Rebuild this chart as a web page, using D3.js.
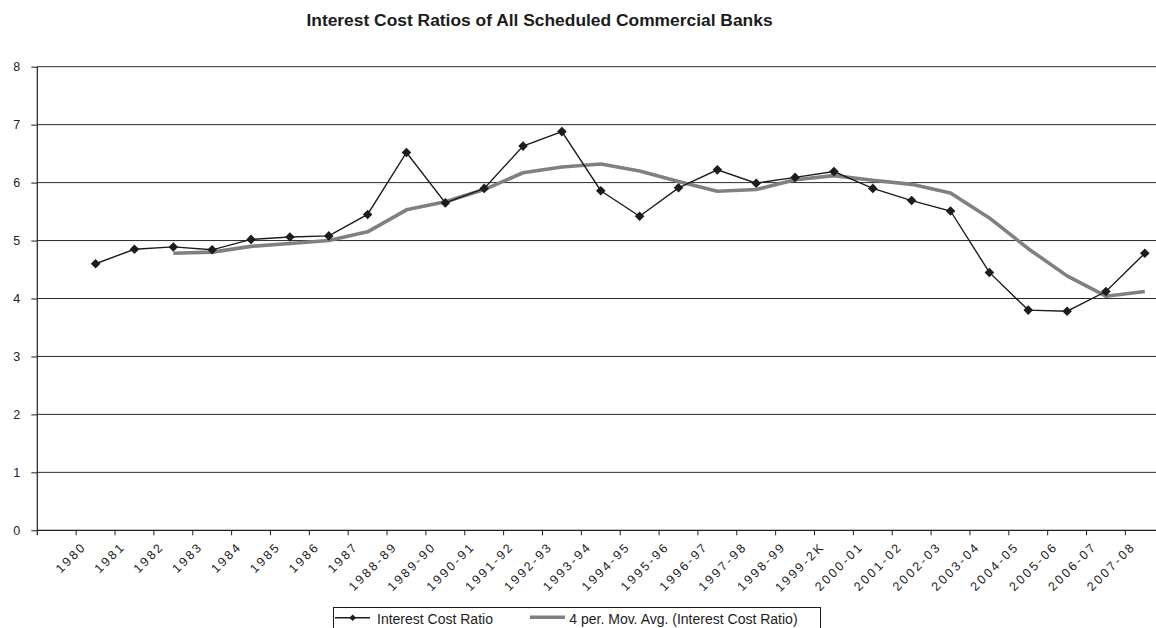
<!DOCTYPE html>
<html>
<head>
<meta charset="utf-8">
<script src="https://cdn.jsdelivr.net/npm/d3@7/dist/d3.min.js"></script>
<style>
  html, body { margin: 0; padding: 0; background: #fff; }
  svg { display: block; font-family: "Liberation Sans", Arial, Helvetica, sans-serif; }
</style>
</head>
<body>
<svg id="chart" width="1156" height="628"></svg>
<script>
// Category labels along the x axis
const categories = ["1980","1981","1982","1983","1984","1985","1986","1987",
  "1988-89","1989-90","1990-91","1991-92","1992-93","1993-94","1994-95",
  "1995-96","1996-97","1997-98","1998-99","1999-2K","2000-01","2001-02",
  "2002-03","2003-04","2004-05","2005-06","2006-07","2007-08"];

// Interest cost ratio (%)
const ratio = [4.60, 4.85, 4.89, 4.84, 5.02, 5.06, 5.08, 5.45, 6.52, 5.65,
  5.90, 6.63, 6.88, 5.86, 5.42, 5.91, 6.22, 5.99, 6.09, 6.19, 5.90, 5.69,
  5.51, 4.45, 3.80, 3.78, 4.12, 4.78];

// 4-period moving average trendline (null where not drawn)
const movAvg = [null, null, 4.78, 4.80, 4.90, 4.95, 5.00, 5.15, 5.53, 5.67,
  5.88, 6.17, 6.27, 6.32, 6.20, 6.02, 5.85, 5.88, 6.05, 6.12, 6.04, 5.97,
  5.82, 5.39, 4.86, 4.39, 4.04, 4.12];

const yTicks = [0, 1, 2, 3, 4, 5, 6, 7, 8];

const title = "Interest Cost Ratios of All Scheduled Commercial Banks";
const legendLabels = ["Interest Cost Ratio", "4 per. Mov. Avg. (Interest Cost Ratio)"];

const svg = d3.select("#chart");
const W = 1156;
const originX = 37.3;
const step = 38.86;

// each category occupies one band; an empty band sits at the axis origin
const x = d3.scaleBand()
  .domain(categories)
  .range([originX + step, originX + step * (categories.length + 1)]);

const y = d3.scaleLinear().domain([0, 8]).range([530.3, 66.7]);

const ink = "#1c1c1c";

// title
svg.append("text")
  .attr("x", 539.5).attr("y", 26)
  .attr("text-anchor", "middle")
  .attr("font-size", 17.4).attr("font-weight", "bold")
  .attr("fill", ink)
  .text(title);

// horizontal gridlines
svg.append("g")
  .selectAll("line")
  .data(yTicks.filter(d => d > 0))
  .join("line")
  .attr("x1", originX).attr("x2", W)
  .attr("y1", d => y(d)).attr("y2", d => y(d))
  .attr("stroke", "#2a2a2a").attr("stroke-width", 1);

// y axis
const yAxis = svg.append("g")
  .attr("transform", `translate(${originX},0)`)
  .call(d3.axisLeft(y).tickValues(yTicks).tickSize(6).tickPadding(11).tickFormat(d3.format("d")));
yAxis.select(".domain").remove();
yAxis.selectAll(".tick line").attr("stroke", ink);
yAxis.selectAll(".tick text").attr("font-size", 12.5).attr("fill", "#222")
  .attr("font-family", "Liberation Sans, Arial, sans-serif");
svg.append("line")
  .attr("x1", originX).attr("x2", originX)
  .attr("y1", y(8)).attr("y2", y(0) + 5)
  .attr("stroke", ink).attr("stroke-width", 1.2);

// x axis: ticks sit on the band boundaries
const xAxis = svg.append("g")
  .attr("transform", `translate(0,${y(0)})`)
  .call(d3.axisBottom(x).tickSize(5).tickSizeOuter(0));
xAxis.select(".domain").remove();
xAxis.selectAll(".tick").attr("transform", d => `translate(${x(d)},0)`);
xAxis.selectAll(".tick line").attr("stroke", ink);
xAxis.selectAll(".tick text")
  .attr("font-size", 12.5)
  .attr("font-family", "Liberation Sans, Arial, sans-serif")
  .attr("fill", "#222")
  .attr("letter-spacing", 2.4)
  .attr("text-anchor", "end")
  .attr("dy", null)
  .attr("transform", "translate(11,17) rotate(-45)")
  .attr("y", 0);
svg.append("line")
  .attr("x1", originX).attr("x2", W)
  .attr("y1", y(0)).attr("y2", y(0))
  .attr("stroke", ink).attr("stroke-width", 1.2);

// moving average trendline
const cx = d => x(d) + x.bandwidth() / 2;
const maLine = d3.line()
  .defined(d => d.v != null)
  .x(d => cx(d.c))
  .y(d => y(d.v));
svg.append("path")
  .datum(categories.map((c, i) => ({ c, v: movAvg[i] })))
  .attr("d", maLine)
  .attr("fill", "none")
  .attr("stroke", "#808080")
  .attr("stroke-width", 3.6)
  .attr("stroke-linejoin", "round");

// interest cost ratio series
const ratioData = categories.map((c, i) => ({ c, v: ratio[i] }));
svg.append("path")
  .datum(ratioData)
  .attr("d", d3.line().x(d => cx(d.c)).y(d => y(d.v)))
  .attr("fill", "none")
  .attr("stroke", ink)
  .attr("stroke-width", 1.4);

const diamond = d3.symbol(d3.symbolSquare, 46);
svg.append("g")
  .selectAll("path")
  .data(ratioData)
  .join("path")
  .attr("d", diamond)
  .attr("transform", d => `translate(${cx(d.c)},${y(d.v)}) rotate(45)`)
  .attr("fill", ink);

// legend
const lg = svg.append("g");
lg.append("rect")
  .attr("x", 333.5).attr("y", 607.5)
  .attr("width", 487).attr("height", 40)
  .attr("fill", "#fff").attr("stroke", ink).attr("stroke-width", 1);
lg.append("line")
  .attr("x1", 335).attr("x2", 370).attr("y1", 617.7).attr("y2", 617.7)
  .attr("stroke", ink).attr("stroke-width", 1.4);
lg.append("path")
  .attr("d", d3.symbol(d3.symbolSquare, 22))
  .attr("transform", "translate(352.7,617.7) rotate(45)")
  .attr("fill", ink);
lg.append("text")
  .attr("x", 377).attr("y", 624.3)
  .attr("font-size", 14).attr("fill", ink)
  .text(legendLabels[0]);
lg.append("line")
  .attr("x1", 530).attr("x2", 565).attr("y1", 617.2).attr("y2", 617.2)
  .attr("stroke", "#808080").attr("stroke-width", 3.6);
lg.append("text")
  .attr("x", 569.3).attr("y", 624.3)
  .attr("font-size", 14).attr("fill", ink)
  .text(legendLabels[1]);
</script>
</body>
</html>
